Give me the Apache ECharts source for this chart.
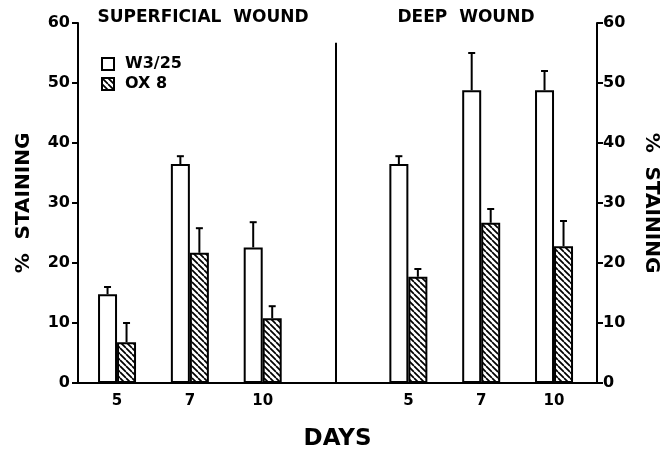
<!DOCTYPE html>
<html><head><meta charset="utf-8">
<script src="https://cdn.jsdelivr.net/npm/echarts@6/dist/echarts.min.js"></script>
<style>html,body{margin:0;padding:0;background:#fff}#c{width:660px;height:449px}</style>
</head><body><div id="c"></div>
<script>
// ---- data ----
const categories = ['5', '7', '10', '', '5', '7', '10'];   // '' = gap between panels
const w325 = [14.8, 36.5, 22.6, null, 36.5, 48.8, 48.8];
const w325Err = [16, 37.8, 26.8, null, 37.8, 55, 52];
const ox8 = [6.8, 21.7, 10.8, null, 17.7, 26.7, 22.8];
const ox8Err = [10, 25.8, 12.8, null, 19, 29, 27];
const seriesNames = ['W3/25', 'OX 8'];
const panelTitles = ['SUPERFICIAL  WOUND', 'DEEP  WOUND'];
const yName = '%  STAINING';
const xName = 'DAYS';
const yMin = 0, yMax = 60, yStep = 10;
const dividerTop = 56.7;

// ---- layout / style ----
const FONT = '"DejaVu Sans", "Liberation Sans", sans-serif';
const BAR_W = 19;
const X_MIN = -0.536, X_MAX = 6.59;

function hatchCanvas() {
  const s = 6;
  const c = document.createElement('canvas');
  c.width = s; c.height = s;
  const g = c.getContext('2d');
  g.fillStyle = '#fff'; g.fillRect(0, 0, s, s);
  g.strokeStyle = '#000'; g.lineWidth = 1.7;
  g.beginPath();
  for (let k = -1; k <= 1; k++) { g.moveTo(k * s, 0); g.lineTo(k * s + s, s); }
  g.stroke();
  return c;
}

const pairs = (vals) => vals.map((v, i) => v == null ? [i, null] : [i, v]);
const errPairs = (vals, errs) => vals.map((v, i) => v == null ? null : [i, v, errs[i]]).filter(Boolean);
const labelIdx = categories.map((c, i) => c === '' ? null : i).filter(v => v != null);
const gapIdx = categories.indexOf('');

function errRenderer(offset) {
  return function (params, api) {
    const x = api.value(0), v = api.value(1), e = api.value(2);
    const p0 = api.coord([x, v]);
    const p1 = api.coord([x, e]);
    const cx = p0[0] + offset;
    return {
      type: 'group',
      children: [
        { type: 'line', shape: { x1: cx, y1: p0[1], x2: cx, y2: p1[1] }, style: { stroke: '#000', lineWidth: 2 } },
        { type: 'line', shape: { x1: cx - 3.5, y1: p1[1], x2: cx + 3.5, y2: p1[1] }, style: { stroke: '#000', lineWidth: 2 } }
      ]
    };
  };
}

const chart = echarts.init(document.getElementById('c'), null, { renderer: 'canvas' });
const txt = { color: '#000', fontFamily: FONT, fontWeight: 'bold' };

const yAxisBase = {
  type: 'value', min: yMin, max: yMax, interval: yStep,
  axisLine: { show: true, onZero: false, lineStyle: { color: '#000', width: 2 } },
  axisTick: { show: true, length: 6, lineStyle: { color: '#000', width: 2 } },
  splitLine: { show: false },
  name: yName, nameLocation: 'middle',
  nameTextStyle: Object.assign({ fontSize: 20 }, txt)
};

chart.setOption({
  animation: false,
  backgroundColor: '#fff',
  grid: { left: 78, right: 63, top: 23, bottom: 66, containLabel: false, outerBoundsMode: 'none' },
  legend: {
    orient: 'vertical', left: 96, top: 51,
    itemWidth: 12, itemHeight: 12, itemGap: 4,
    icon: 'rect',
    data: seriesNames,
    textStyle: Object.assign({ fontSize: 16, padding: [0, 0, 0, 6] }, txt)
  },
  graphic: [
    { type: 'text', x: 203, y: 9, style: { text: panelTitles[0], textAlign: 'center', fill: '#000', font: 'bold 17px ' + FONT } },
    { type: 'text', x: 466, y: 9, style: { text: panelTitles[1], textAlign: 'center', fill: '#000', font: 'bold 17px ' + FONT } }
  ],
  xAxis: {
    type: 'value', min: X_MIN, max: X_MAX,
    axisLine: { show: true, onZero: false, lineStyle: { color: '#000', width: 2 } },
    axisTick: { show: false },
    splitLine: { show: false },
    axisLabel: Object.assign({ fontSize: 15, margin: 11, customValues: labelIdx, formatter: (v) => categories[Math.round(v)] }, txt),
    name: xName, nameLocation: 'middle', nameGap: 45,
    nameTextStyle: Object.assign({ fontSize: 23 }, txt)
  },
  yAxis: [
    Object.assign({}, yAxisBase, {
      position: 'left', nameRotate: 90, nameGap: 44,
      axisLabel: Object.assign({ fontSize: 16, margin: 8 }, txt)
    }),
    Object.assign({}, yAxisBase, {
      position: 'right', nameRotate: -90, nameGap: 44,
      axisLabel: Object.assign({ fontSize: 16, margin: 6 }, txt)
    })
  ],
  series: [
    {
      name: seriesNames[0], type: 'bar', data: pairs(w325), barWidth: BAR_W, barGap: '0%',
      itemStyle: { color: '#fff', borderColor: '#000', borderWidth: 2 }
    },
    {
      name: seriesNames[1], type: 'bar', data: pairs(ox8), barWidth: BAR_W, barGap: '0%',
      itemStyle: { color: { image: hatchCanvas(), repeat: 'repeat' }, borderColor: '#000', borderWidth: 2 }
    },
    {
      type: 'custom', renderItem: errRenderer(-BAR_W / 2), data: errPairs(w325, w325Err), z: 5, silent: true,
      markLine: {
        silent: true, symbol: 'none', label: { show: false },
        lineStyle: { color: '#000', width: 2, type: 'solid' },
        data: [[{ coord: [gapIdx, yMin] }, { coord: [gapIdx, dividerTop] }]]
      }
    },
    { type: 'custom', renderItem: errRenderer(BAR_W / 2), data: errPairs(ox8, ox8Err), z: 5, silent: true }
  ]
});
</script>
</body></html>
